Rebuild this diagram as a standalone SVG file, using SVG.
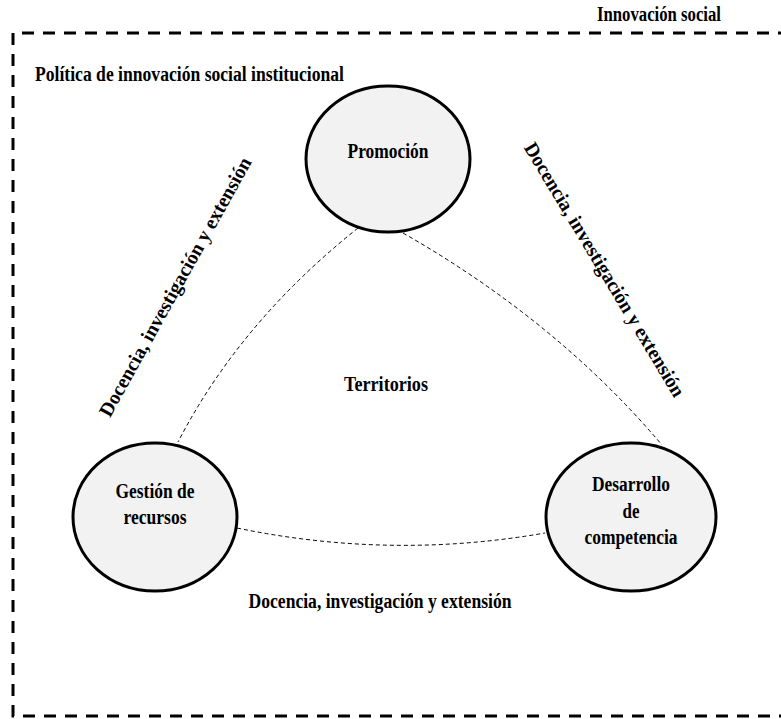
<svg xmlns="http://www.w3.org/2000/svg" width="781" height="719" viewBox="0 0 781 719">
<style>
.t{font-family:"Liberation Serif","Times New Roman",serif;font-weight:bold;font-size:20px;fill:#000}
.m{text-anchor:middle}
.node{fill:#f2f2f2;stroke:#000;stroke-width:3}
.con{fill:none;stroke:#000;stroke-width:1;stroke-dasharray:4 3}
.frame{fill:none;stroke:#000;stroke-width:3;stroke-dasharray:12 9}
</style>
<rect width="781" height="719" fill="#fff"/>
<g id="frame">
<path class="frame" d="M790,33 H13 V716 H790"/>
<text class="t" x="597" y="21" textLength="124" lengthAdjust="spacingAndGlyphs">Innovación social</text>
<text class="t" x="35" y="81" textLength="309" lengthAdjust="spacingAndGlyphs">Política de innovación social institucional</text>
</g>
<g id="connectors">
<path class="con" d="M358,228 Q240,322 178,442"/>
<path class="con" d="M403,233 Q557,321 662,445"/>
<path class="con" d="M237,528 Q391,560 545,533"/>
</g>
<g id="promocion">
<ellipse class="node" cx="388" cy="159" rx="82" ry="73"/>
<text class="t m" x="388" y="158" textLength="81" lengthAdjust="spacingAndGlyphs">Promoción</text>
</g>
<g id="gestion">
<ellipse class="node" cx="155" cy="517" rx="82" ry="74"/>
<text class="t m" x="155" y="498" textLength="79" lengthAdjust="spacingAndGlyphs">Gestión de</text>
<text class="t m" x="155" y="524" textLength="63" lengthAdjust="spacingAndGlyphs">recursos</text>
</g>
<g id="desarrollo">
<ellipse class="node" cx="631" cy="517" rx="85" ry="74"/>
<text class="t m" x="631" y="491" textLength="78" lengthAdjust="spacingAndGlyphs">Desarrollo</text>
<text class="t m" x="631" y="518" textLength="17" lengthAdjust="spacingAndGlyphs">de</text>
<text class="t m" x="631" y="544" textLength="93" lengthAdjust="spacingAndGlyphs">competencia</text>
</g>
<g id="labels">
<text class="t m" x="386" y="391" textLength="84" lengthAdjust="spacingAndGlyphs">Territorios</text>
<text class="t m" x="380" y="608" textLength="263" lengthAdjust="spacingAndGlyphs">Docencia, investigación y extensión</text>
<text class="t m" transform="translate(181,290) rotate(-61)" textLength="293" lengthAdjust="spacingAndGlyphs">Docencia, investigación y extensión</text>
<text class="t m" transform="translate(599,273) rotate(59)" textLength="293" lengthAdjust="spacingAndGlyphs">Docencia, investigación y extensión</text>
</g>
</svg>
